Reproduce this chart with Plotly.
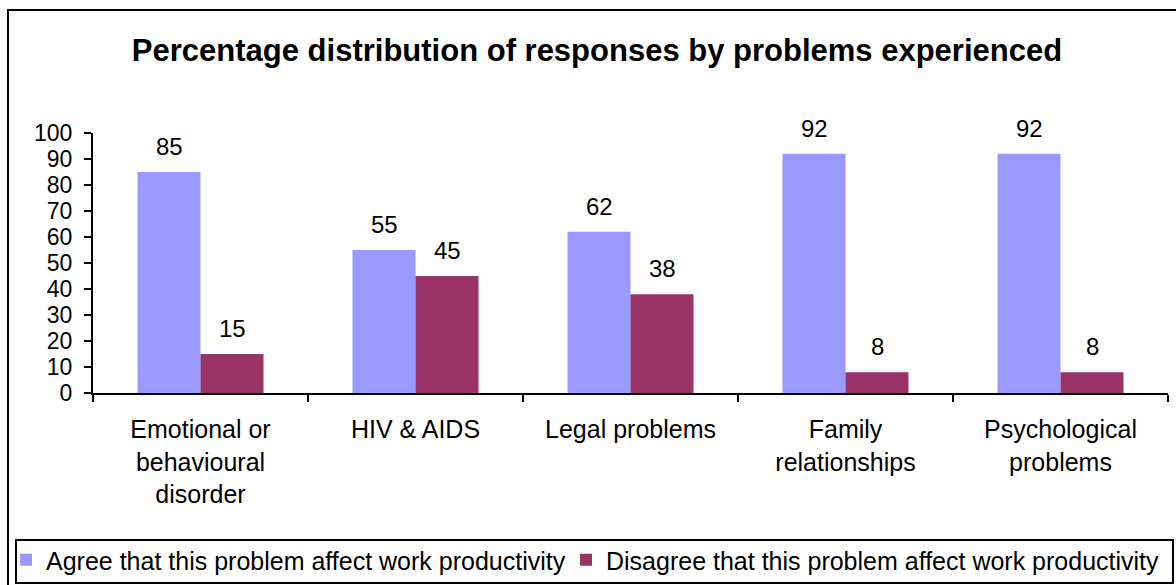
import plotly.graph_objects as go

categories = ["Emotional or<br>behavioural<br>disorder", "HIV & AIDS", "Legal problems",
              "Family<br>relationships", "Psychological<br>problems"]
agree = [85, 55, 62, 92, 92]
disagree = [15, 45, 38, 8, 8]
series_names = ["Agree that this problem affect work productivity",
                "Disagree that this problem affect work productivity"]
title_text = "Percentage distribution of responses by problems experienced"
y_ticks = [0, 10, 20, 30, 40, 50, 60, 70, 80, 90, 100]

FONT = "Liberation Sans, Arial, sans-serif"
BLUE = "#9999FF"
RED = "#993366"

fig = go.Figure()
fig.add_trace(go.Bar(x=categories, y=agree, name=series_names[0], marker_color=BLUE,
                     marker_line_width=0, legendwidth=515))
fig.add_trace(go.Bar(x=categories, y=disagree, name=series_names[1], marker_color=RED,
                     marker_line_width=0, legendwidth=560))

W, H = 1176, 585
ml, mr, mt, mb = 93, 8, 133, 192
PW, PH = W - ml - mr, H - mt - mb


def px_x(p):
    return (p - ml) / PW


def px_y(p):
    return (H - mb - p) / PH


annotations = []
for vals, shift in ((agree, -31.5), (disagree, 31.5)):
    for c, v in zip(categories, vals):
        annotations.append(dict(x=c, y=v, xref="x", yref="y", text=str(v), showarrow=False,
                                xshift=shift, yshift=10, yanchor="bottom",
                                font=dict(family=FONT, size=24, color="black")))

fig.update_layout(
    width=W, height=H,
    margin=dict(l=ml, r=mr, t=mt, b=mb, autoexpand=False),
    paper_bgcolor="white", plot_bgcolor="white",
    barmode="group", bargap=0.414, bargroupgap=0,
    font=dict(family=FONT, color="black"),
    title=dict(text="<b>" + title_text + "</b>", xref="container", yref="container",
               x=597 / W, xanchor="center", y=1 - 50 / H, yanchor="middle",
               font=dict(family=FONT, size=31, color="black")),
    showlegend=True,
    legend=dict(orientation="h", xref="paper", yref="paper",
                x=px_x(6), xanchor="left", y=px_y(537), yanchor="top",
                borderwidth=0, bgcolor="rgba(0,0,0,0)",
                font=dict(family=FONT, size=25, color="black"),
                entrywidthmode="pixels", traceorder="normal"),
    xaxis=dict(showline=True, linecolor="black", linewidth=2, ticks="outside",
               tickson="boundaries", ticklen=7, tickwidth=2, tickcolor="black",
               showgrid=False, tickfont=dict(family=FONT, size=25, color="black"),
               ticklabelstandoff=13),
    yaxis=dict(range=[0, 100], tickvals=y_ticks, showline=True, linecolor="black",
               linewidth=2, ticks="outside", ticklen=7, tickwidth=2, tickcolor="black",
               showgrid=False, zeroline=False,
               tickfont=dict(family=FONT, size=23, color="black"),
               ticklabelstandoff=7),
    annotations=annotations,
    shapes=[
        dict(type="rect", xref="paper", yref="paper",
             x0=px_x(8), x1=px_x(1190), y0=px_y(600), y1=px_y(10),
             line=dict(color="black", width=2), layer="below"),
        dict(type="rect", xref="paper", yref="paper",
             x0=px_x(16), x1=px_x(1173), y0=px_y(583), y1=px_y(540),
             line=dict(color="black", width=2), fillcolor="white", layer="below"),
    ],
)

fig.write_html("out.html")
